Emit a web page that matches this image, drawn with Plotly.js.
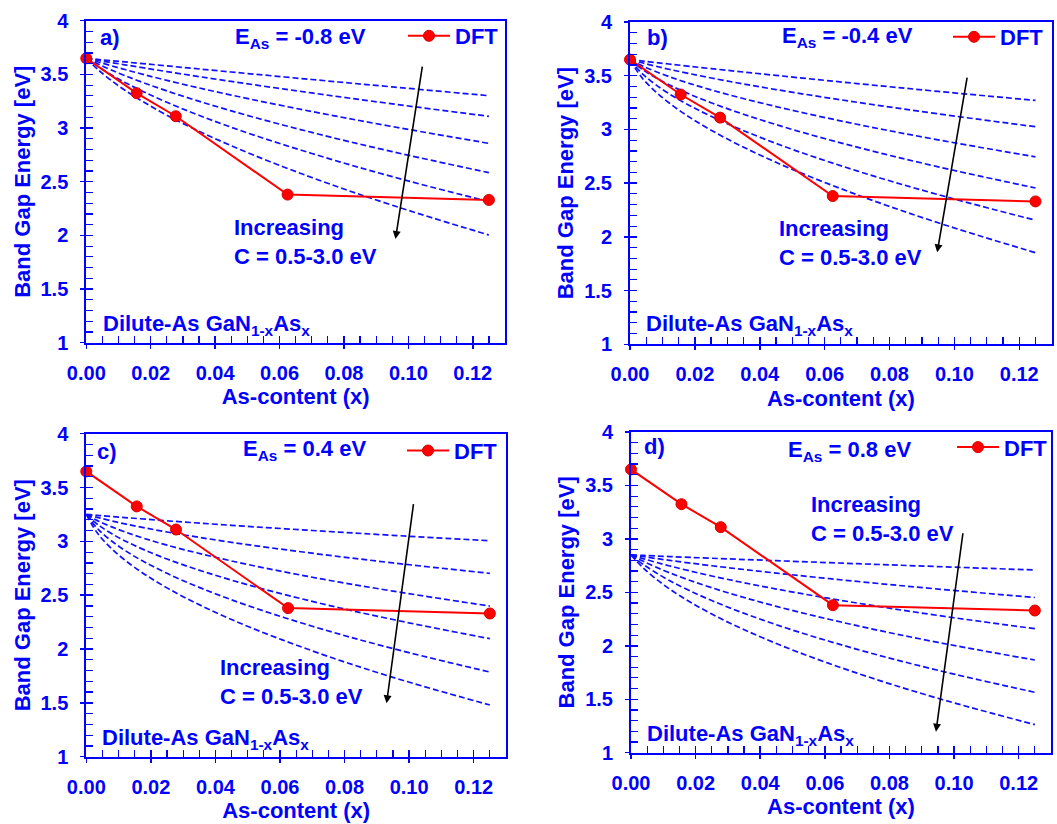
<!DOCTYPE html>
<html>
<head>
<meta charset="utf-8">
<script src="https://cdn.plot.ly/plotly-3.0.1.min.js"></script>
<style>
html,body{margin:0;padding:0;background:#ffffff;}
#chart{width:1057px;height:824px;}
</style>
</head>
<body>
<div id="chart"></div>
<script>
// ---------------- data ----------------
// As-content sample points of the model (dashed) curves
const asContent = [0, 0.004, 0.012, 0.025, 0.045, 0.07, 0.095, 0.125];

// DFT band gaps
const dftContent = [0, 0.015625, 0.02778, 0.0625, 0.125];
const dftGap = [3.65, 3.325, 3.11, 2.38, 2.33];

// Coupling parameters of the six dashed curves (top to bottom)
const couplingC = ['0.5', '1.0', '1.5', '2.0', '2.5', '3.0'];

// Panel a) E_As = -0.8 eV
const curvesA = [
  [3.65, 3.638, 3.616, 3.579, 3.522, 3.452, 3.383, 3.301],
  [3.65, 3.629, 3.589, 3.526, 3.434, 3.327, 3.225, 3.109],
  [3.65, 3.613, 3.545, 3.444, 3.307, 3.154, 3.014, 2.857],
  [3.65, 3.591, 3.488, 3.346, 3.160, 2.959, 2.780, 2.584],
  [3.65, 3.565, 3.425, 3.240, 3.007, 2.763, 2.547, 2.314],
  [3.65, 3.534, 3.352, 3.120, 2.835, 2.539, 2.281, 2.003]
];
// Panel b) E_As = -0.4 eV
const curvesB = [
  [3.65, 3.636, 3.609, 3.566, 3.503, 3.427, 3.354, 3.270],
  [3.65, 3.618, 3.560, 3.479, 3.371, 3.253, 3.145, 3.025],
  [3.65, 3.589, 3.492, 3.368, 3.213, 3.048, 2.903, 2.745],
  [3.65, 3.554, 3.416, 3.248, 3.045, 2.835, 2.652, 2.455],
  [3.65, 3.513, 3.333, 3.122, 2.870, 2.614, 2.393, 2.155],
  [3.65, 3.470, 3.248, 2.993, 2.694, 2.392, 2.131, 1.853]
];
// Panel c) E_As = 0.4 eV
const curvesC = [
  [3.25, 3.240, 3.221, 3.191, 3.149, 3.101, 3.056, 3.006],
  [3.25, 3.218, 3.162, 3.087, 2.991, 2.890, 2.800, 2.703],
  [3.25, 3.185, 3.087, 2.965, 2.818, 2.667, 2.538, 2.399],
  [3.25, 3.146, 3.004, 2.836, 2.640, 2.442, 2.274, 2.096],
  [3.25, 3.102, 2.915, 2.703, 2.457, 2.212, 2.004, 1.786],
  [3.25, 3.055, 2.825, 2.568, 2.274, 1.983, 1.737, 1.480]
];
// Panel d) E_As = 0.8 eV
const curvesD = [
  [2.85, 2.845, 2.835, 2.819, 2.796, 2.768, 2.741, 2.709],
  [2.85, 2.833, 2.799, 2.749, 2.680, 2.602, 2.531, 2.452],
  [2.85, 2.813, 2.747, 2.653, 2.531, 2.400, 2.284, 2.160],
  [2.85, 2.788, 2.682, 2.543, 2.369, 2.188, 2.032, 1.867],
  [2.85, 2.757, 2.609, 2.423, 2.197, 1.967, 1.771, 1.565],
  [2.85, 2.722, 2.530, 2.297, 2.021, 1.744, 1.509, 1.263]
];

const panelLetters = ['a)', 'b)', 'c)', 'd)'];
const eAsValues = ['-0.8', '-0.4', '0.4', '0.8'];
// arrow start / end (As-content, energy) per panel
const arrowFromX = [0.1044, 0.1040, 0.1014, 0.1028];
const arrowFromY = [3.587, 3.497, 3.359, 3.067];
const arrowToX = [0.0960, 0.0947, 0.0930, 0.0944];
const arrowToY = [1.966, 1.856, 1.496, 1.196];

// ---------------- styling / layout ----------------
const BLUE = '#0000ff';
const FONT = 'Liberation Sans, Arial, Helvetica, sans-serif';
const W = 1057, H = 824;
const px = v => v / W;
const py = v => 1 - v / H;

const allCurves = [curvesA, curvesB, curvesC, curvesD];
const panels = [
  {xd: [px(86.3), px(505)],   yd: [py(342.7), py(20.7)]},
  {xd: [px(630), px(1051.7)], yd: [py(344.3), py(22)]},
  {xd: [px(86.3), px(506)],   yd: [py(756.7), py(433.7)]},
  {xd: [px(631), px(1051)],   yd: [py(752.7), py(432)]}
];
// text placement (pixels in the page)
const letterPos = [[98, 37], [645, 38], [95, 451.7], [641.7, 446.7]];
const eAsPos = [[233, 38], [779.5, 37], [241, 450], [786, 451]];
const legendPos = [[403, 36], [948, 37], [402, 450.7], [952, 447.3]];
const incPos = [[232, 242.5], [776.7, 243.3], [218.3, 681.7], [809.3, 519.2]];
const dilutePos = [[100.7, 325], [644, 325], [100, 738.5], [645, 735]];

const traces = [];
const layout = {
  width: W, height: H,
  margin: {l: 0, r: 0, t: 0, b: 0},
  paper_bgcolor: '#ffffff', plot_bgcolor: '#ffffff',
  font: {family: FONT, color: BLUE},
  showlegend: true,
  annotations: []
};

panels.forEach((p, i) => {
  const n = i + 1;
  const xa = n === 1 ? 'x' : 'x' + n;
  const ya = n === 1 ? 'y' : 'y' + n;
  const xKey = n === 1 ? 'xaxis' : 'xaxis' + n;
  const yKey = n === 1 ? 'yaxis' : 'yaxis' + n;
  const legKey = n === 1 ? 'legend' : 'legend' + n;

  allCurves[i].forEach((vals, j) => {
    traces.push({
      type: 'scatter', mode: 'lines',
      x: asContent, y: vals,
      name: 'C = ' + couplingC[j] + ' eV',
      xaxis: xa, yaxis: ya,
      line: {color: '#1010ff', width: 1.7, dash: '6px,3px', shape: 'spline', smoothing: 1},
      showlegend: false, hoverinfo: 'skip'
    });
  });
  traces.push({
    type: 'scatter', mode: 'lines+markers',
    x: dftContent, y: dftGap, name: 'DFT',
    xaxis: xa, yaxis: ya, legend: legKey,
    line: {color: '#ff0000', width: 2},
    marker: {size: 11, color: '#ff0000', line: {color: '#d80000', width: 1}},
    cliponaxis: false
  });

  // overlay axes for the outward part of the major ticks
  const ox = 'x' + (n + 4), oy = 'y' + (n + 4);
  traces.push({type: 'scatter', x: [], y: [], xaxis: ox, yaxis: ya, showlegend: false, hoverinfo: 'skip'});
  traces.push({type: 'scatter', x: [], y: [], xaxis: xa, yaxis: oy, showlegend: false, hoverinfo: 'skip'});

  const tickFont = {family: FONT, size: 20, color: BLUE, weight: 700};
  const titleFont = {family: FONT, size: 22, color: BLUE, weight: 700};

  layout[xKey] = {
    domain: p.xd, anchor: ya, range: [0, 0.13],
    tick0: 0, dtick: 0.02, tickformat: '.2f',
    ticks: 'inside', ticklen: 7, tickwidth: 1.5, tickcolor: BLUE,
    minor: {tick0: 0, dtick: 0.005, ticks: 'inside', ticklen: 7, tickwidth: 1.2, tickcolor: BLUE, showgrid: false},
    showline: true, linecolor: BLUE, linewidth: 2, mirror: true,
    showgrid: false, zeroline: false, fixedrange: true,
    tickfont: tickFont, ticklabelstandoff: 11,
    title: {text: 'As-content (x)', font: titleFont, standoff: 6}
  };
  layout[yKey] = {
    domain: p.yd, anchor: xa, range: [1, 4],
    tick0: 1, dtick: 0.5,
    ticks: 'inside', ticklen: 7, tickwidth: 1.5, tickcolor: BLUE,
    minor: {tick0: 1, dtick: 0.1, ticks: 'inside', ticklen: 7, tickwidth: 1.2, tickcolor: BLUE, showgrid: false},
    showline: true, linecolor: BLUE, linewidth: 2, mirror: true,
    showgrid: false, zeroline: false, fixedrange: true,
    tickfont: tickFont, ticklabelstandoff: 12,
    title: {text: 'Band Gap Energy [eV]', font: titleFont, standoff: 4}
  };
  layout['xaxis' + (n + 4)] = {
    overlaying: xa, anchor: ya, range: [0, 0.13], tick0: 0, dtick: 0.02,
    ticks: 'outside', ticklen: 5, tickwidth: 1.5, tickcolor: BLUE,
    showticklabels: false, showline: false, showgrid: false, zeroline: false, fixedrange: true
  };
  layout['yaxis' + (n + 4)] = {
    overlaying: ya, anchor: xa, range: [1, 4], tick0: 1, dtick: 0.5,
    ticks: 'outside', ticklen: 5, tickwidth: 1.5, tickcolor: BLUE,
    showticklabels: false, showline: false, showgrid: false, zeroline: false, fixedrange: true
  };

  layout[legKey] = {
    x: px(legendPos[i][0]), y: py(legendPos[i][1]),
    xanchor: 'left', yanchor: 'middle', itemwidth: 42,
    bgcolor: 'rgba(0,0,0,0)', borderwidth: 0,
    font: {family: FONT, size: 22, color: BLUE, weight: 700}
  };

  const annFont = {family: FONT, size: 22, color: BLUE, weight: 700};
  layout.annotations.push(
    {xref: 'paper', yref: 'paper', x: px(letterPos[i][0]), y: py(letterPos[i][1]),
     xanchor: 'left', yanchor: 'middle', showarrow: false, text: panelLetters[i], font: annFont},
    {xref: 'paper', yref: 'paper', x: px(eAsPos[i][0]), y: py(eAsPos[i][1]),
     xanchor: 'left', yanchor: 'middle', showarrow: false,
     text: 'E<sub>As</sub> = ' + eAsValues[i] + ' eV', font: annFont},
    {xref: 'paper', yref: 'paper', x: px(incPos[i][0]), y: py(incPos[i][1]),
     xanchor: 'left', yanchor: 'middle', align: 'left', showarrow: false,
     text: 'Increasing<br>C = 0.5-3.0 eV', font: annFont},
    {xref: 'paper', yref: 'paper', x: px(dilutePos[i][0]), y: py(dilutePos[i][1]),
     xanchor: 'left', yanchor: 'middle', showarrow: false,
     text: 'Dilute-As GaN<sub>1-x</sub>As<sub>x</sub>', font: annFont},
    {xref: xa, yref: ya, axref: xa, ayref: ya,
     x: arrowToX[i], y: arrowToY[i], ax: arrowFromX[i], ay: arrowFromY[i],
     text: '', showarrow: true, arrowhead: 2, arrowsize: 1, arrowwidth: 1.6, arrowcolor: '#000000',
     standoff: 0, startstandoff: 0}
  );
});

Plotly.newPlot('chart', traces, layout, {staticPlot: true, displayModeBar: false});
</script>
</body>
</html>
